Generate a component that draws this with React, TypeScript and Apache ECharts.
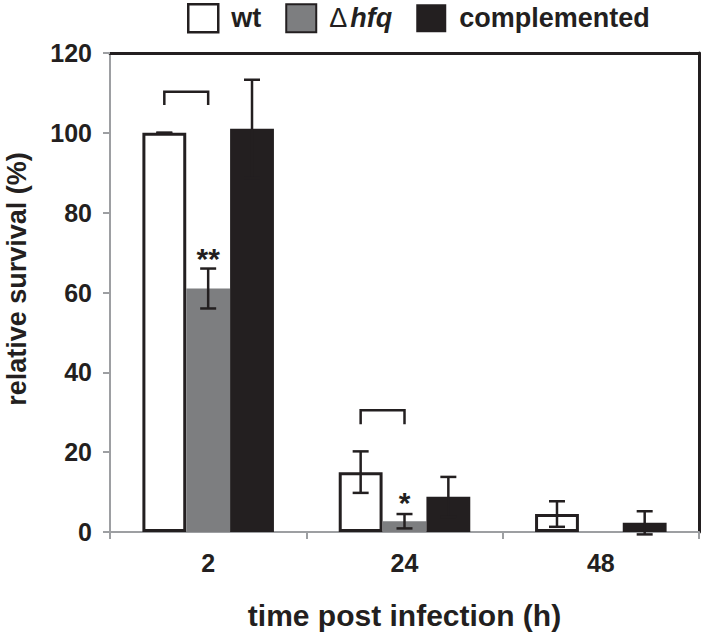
import React, { useEffect, useRef } from "react";
import * as echarts from "echarts";

const categories = ["2", "24", "48"];
const seriesNames = ["wt", "Δhfq", "complemented"];
const wtValues = [100, 15, 4.5];
const hfqValues = [61, 2.7, 0];
const compValues = [101, 8.8, 2.3];
const wtErrors = [0, 5.2, 3.2];
const hfqErrors = [5, 1.8, 0];
const compErrors = [12.3, 5, 2.9];
// brackets: [category index, top value, leg bottom value]
const brackets = [
  [0, 110.3, 107],
  [1, 30.5, 27],
];
// significance marks above Δhfq bars: [category index, value, text]
const marks: [number, number, string][] = [
  [0, 70, "**"],
  [1, 8.8, "*"],
];
const yTicks = { min: 0, max: 120, interval: 20 };

const FONT = '"Liberation Sans", Arial, Helvetica, sans-serif';
const INK = "#231f20";
const GRAY = "#7d7e80";
const AXIS_GRAY = "#9d9fa2";
const CAT_GAP = 0.33;

function barCenter(api: any, cat: number, val: number, s: number) {
  const p = api.coord([cat, val]);
  const band = api.size([1, 0])[0];
  const bw = (band * (1 - CAT_GAP)) / 3;
  return { x: p[0] + (s - 1) * bw, y: p[1] };
}

export default function App() {
  const ref = useRef<HTMLDivElement>(null);
  useEffect(() => {
    if (!ref.current) return;
    const chart = echarts.init(ref.current, null, { renderer: "svg" });
    const valuesBySeries = [wtValues, hfqValues, compValues];
    const errBySeries = [wtErrors, hfqErrors, compErrors];
    const colors = ["#ffffff", GRAY, INK];

    const barSeries = seriesNames.map((name, s) => ({
      name,
      type: "bar",
      xAxisIndex: 0,
      yAxisIndex: 0,
      data: valuesBySeries[s],
      barGap: "0%",
      barCategoryGap: CAT_GAP * 100 + "%",
      itemStyle:
        s === 0
          ? { color: "#ffffff", borderColor: INK, borderWidth: 3 }
          : { color: colors[s] },
      z: 2,
    }));

    const errData: number[][] = [];
    for (let s = 0; s < 3; s++) {
      for (let c = 0; c < categories.length; c++) {
        if (valuesBySeries[s][c] > 0) errData.push([c, valuesBySeries[s][c], errBySeries[s][c], s]);
      }
    }

    const errSeries = {
      type: "custom",
      name: "err",
      xAxisIndex: 0,
      yAxisIndex: 0,
      data: errData,
      encode: { x: 0, y: 1 },
      z: 5,
      clip: false,
      renderItem: (params: any, api: any) => {
        const c = api.value(0);
        const v = api.value(1);
        const e = api.value(2);
        const s = api.value(3);
        const top = barCenter(api, c, v + e, s);
        const bot = barCenter(api, c, v - e, s);
        const hw = 8;
        const style = { stroke: INK, lineWidth: 2.5 };
        return {
          type: "group",
          children: [
            { type: "line", shape: { x1: top.x, y1: top.y, x2: bot.x, y2: bot.y }, style },
            { type: "line", shape: { x1: top.x - hw, y1: top.y, x2: top.x + hw, y2: top.y }, style },
            { type: "line", shape: { x1: bot.x - hw, y1: bot.y, x2: bot.x + hw, y2: bot.y }, style },
          ],
        };
      },
    };

    const bracketSeries = {
      type: "custom",
      name: "brackets",
      xAxisIndex: 0,
      yAxisIndex: 0,
      data: brackets,
      encode: { x: 0, y: 1 },
      z: 5,
      renderItem: (params: any, api: any) => {
        const c = api.value(0);
        const t = api.value(1);
        const b = api.value(2);
        const a1 = barCenter(api, c, t, 0);
        const a2 = barCenter(api, c, t, 1);
        const b1 = barCenter(api, c, b, 0);
        return {
          type: "polyline",
          shape: {
            points: [
              [a1.x, b1.y],
              [a1.x, a1.y],
              [a2.x, a2.y],
              [a2.x, b1.y],
            ],
          },
          style: { stroke: INK, lineWidth: 2.5, fill: "none" },
        };
      },
    };

    const markSeries = {
      type: "custom",
      name: "marks",
      xAxisIndex: 0,
      yAxisIndex: 0,
      data: marks,
      encode: { x: 0, y: 1 },
      z: 6,
      renderItem: (params: any, api: any) => {
        const idx = params.dataIndex;
        const m = marks[idx];
        const p = barCenter(api, m[0], m[1], 1);
        return {
          type: "text",
          x: p.x,
          y: p.y + 6,
          style: {
            text: m[2],
            fill: INK,
            font: `bold 30px ${FONT}`,
            align: "center",
            verticalAlign: "middle",
          },
        };
      },
    };

    const option: any = {
      animation: false,
      backgroundColor: "#ffffff",
      textStyle: { fontFamily: FONT },
      legend: {
        data: [
          { name: seriesNames[0], itemStyle: { color: "#ffffff", borderColor: INK, borderWidth: 2.5 } },
          { name: seriesNames[1], itemStyle: { color: GRAY, borderColor: INK, borderWidth: 2 } },
          { name: seriesNames[2], itemStyle: { color: INK, borderWidth: 0 } },
        ],
        left: 187,
        top: 3,
        padding: 0,
        itemWidth: 30,
        itemHeight: 28,
        itemGap: 24,
        icon: "rect",
        selectedMode: false,
        formatter: (name: string) => (name === "Δhfq" ? "{d|Δ}{i|hfq}" : name),
        textStyle: {
          fontFamily: FONT,
          fontWeight: "bold",
          fontSize: 27,
          color: INK,
          padding: [0, 0, 0, 8],
          rich: {
            d: { fontFamily: FONT, fontWeight: "normal", fontSize: 27, color: INK },
            i: { fontFamily: FONT, fontWeight: "bold", fontStyle: "italic", fontSize: 27, color: INK, padding: [0, 0, 0, 3] },
          },
        },
      },
      grid: { left: 110, right: 3, top: 53, bottom: 107, containLabel: false, outerBoundsMode: "none" },
      xAxis: [
        {
          type: "category",
          data: categories,
          position: "bottom",
          boundaryGap: true,
          axisLine: { show: true, lineStyle: { color: AXIS_GRAY, width: 2 } },
          axisTick: { show: true, alignWithLabel: false, length: 7, lineStyle: { color: AXIS_GRAY, width: 2 } },
          axisLabel: { fontFamily: FONT, fontWeight: "bold", fontSize: 25, color: INK, margin: 18 },
          name: "time post infection (h)",
          nameLocation: "middle",
          nameGap: 68,
          nameTextStyle: { fontFamily: FONT, fontWeight: "bold", fontSize: 30, color: INK },
          splitLine: { show: false },
          z: 1,
        },
        {
          type: "category",
          data: categories,
          position: "top",
          axisLine: { show: true, onZero: false, lineStyle: { color: INK, width: 3 } },
          axisTick: { show: false },
          axisLabel: { show: false },
          splitLine: { show: false },
        },
      ],
      yAxis: [
        {
          type: "value",
          min: yTicks.min,
          max: yTicks.max,
          interval: yTicks.interval,
          position: "left",
          axisLine: { show: true, lineStyle: { color: AXIS_GRAY, width: 2 } },
          axisTick: { show: true, length: 7, lineStyle: { color: AXIS_GRAY, width: 2 } },
          axisLabel: { fontFamily: FONT, fontWeight: "bold", fontSize: 25, color: INK, margin: 18 },
          splitLine: { show: false },
          name: "relative survival (%)",
          nameLocation: "middle",
          nameGap: 80,
          nameRotate: 90,
          nameTextStyle: { fontFamily: FONT, fontWeight: "bold", fontSize: 27, color: INK, padding: [0, 0, 0, 27] },
        },
        {
          type: "value",
          min: yTicks.min,
          max: yTicks.max,
          interval: yTicks.interval,
          position: "right",
          axisLine: { show: true, onZero: false, lineStyle: { color: INK, width: 3 } },
          axisTick: { show: false },
          axisLabel: { show: false },
          splitLine: { show: false },
        },
      ],
      series: [...barSeries, errSeries, bracketSeries, markSeries],
    };
    chart.setOption(option);
    return () => chart.dispose();
  }, []);
  return (
    <div
      ref={ref}
      style={{ position: "absolute", left: 0, top: 0, width: 702, height: 639, background: "#fff" }}
    />
  );
}
